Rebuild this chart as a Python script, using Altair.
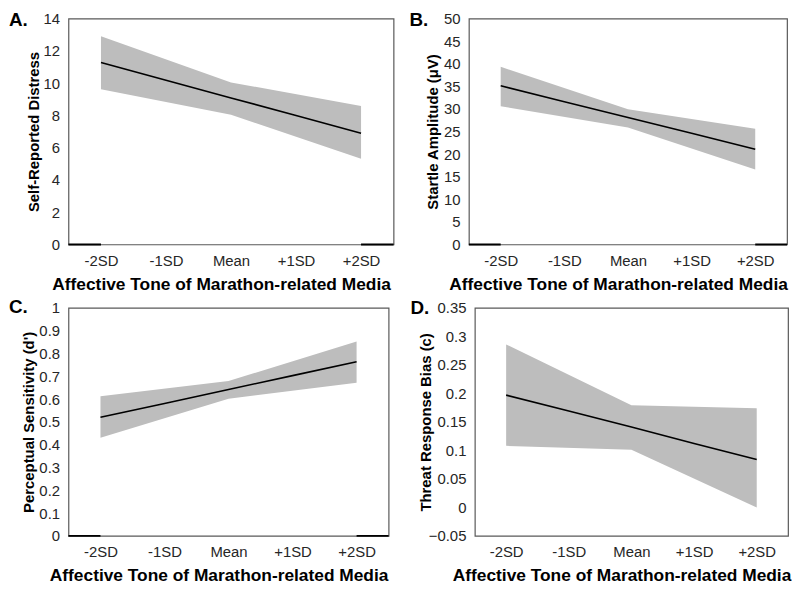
import json
import altair as alt
import pandas as pd

FONT = "Liberation Sans"

tone_labels = ["-2SD", "-1SD", "Mean", "+1SD", "+2SD"]
band_tones = ["-2SD", "Mean", "+2SD"]
x_title = "Affective Tone of Marathon-related Media"

# Panel A: Self-Reported Distress
distress_line = [11.28, 10.18, 9.08, 7.99, 6.89]
distress_upper = [12.9, 10.04, 8.58]
distress_lower = [9.61, 8.03, 5.31]
distress_ticks = [0, 2, 4, 6, 8, 10, 12, 14]

# Panel B: Startle Amplitude
startle_line = [35.1, 31.6, 28.1, 24.6, 21.05]
startle_upper = [39.3, 29.9, 25.6]
startle_lower = [30.6, 25.9, 16.6]
startle_ticks = [0, 5, 10, 15, 20, 25, 30, 35, 40, 45, 50]

# Panel C: Perceptual Sensitivity
sens_line = [0.520, 0.581, 0.642, 0.703, 0.764]
sens_upper = [0.613, 0.679, 0.853]
sens_lower = [0.430, 0.602, 0.672]
sens_ticks = [0, 0.1, 0.2, 0.3, 0.4, 0.5, 0.6, 0.7, 0.8, 0.9, 1]

# Panel D: Threat Response Bias
bias_line = [0.197, 0.169, 0.141, 0.112, 0.084]
bias_upper = [0.286, 0.179, 0.174]
bias_lower = [0.108, 0.101, 0.0]
bias_ticks = [-0.05, 0, 0.05, 0.1, 0.15, 0.2, 0.25, 0.3, 0.35]

y_titles = ["Self-Reported Distress", "Startle Amplitude (μV)",
            "Perceptual Sensitivity (d')", "Threat Response Bias (c)"]
letters = ["A.", "B.", "C.", "D."]

pos_of = {t: i for i, t in enumerate(tone_labels)}
label_expr = json.dumps(tone_labels) + "[round(datum.value)]"


def panel(letter, line_vals, upper, lower, yticks, yfmt, ytitle, w, h,
          ytitle_off, letter_dx, letter_dy, stubs):
    line_df = pd.DataFrame({"pos": [pos_of[t] for t in tone_labels],
                            "value": line_vals})
    band_df = pd.DataFrame({"pos": [pos_of[t] for t in band_tones],
                            "value": upper, "lower": lower})
    xs = alt.Scale(domain=[-0.5, len(tone_labels) - 0.5], nice=False, zero=False)
    ys = alt.Scale(domain=[yticks[0], yticks[-1]], nice=False, zero=False)
    xax = alt.Axis(values=list(range(len(tone_labels))), labelExpr=label_expr,
                   title=x_title, grid=False, domain=False, ticks=False, tickSize=0,
                   labelPadding=9, titlePadding=7, titleX=w / 2 - 10)
    yax = alt.Axis(values=yticks, format=yfmt, title=ytitle, grid=False,
                   domain=False, ticks=False, tickSize=0, labelPadding=9,
                   titleX=-ytitle_off, titleBaseline="middle")
    band = alt.Chart(band_df).mark_area(color="#bdbdbd", opacity=1).encode(
        x=alt.X("pos:Q", scale=xs, axis=xax),
        y=alt.Y("value:Q", scale=ys, axis=yax),
        y2="lower:Q",
    )
    line = alt.Chart(line_df).mark_line(color="black", strokeWidth=1.6).encode(
        x=alt.X("pos:Q", scale=xs, axis=xax),
        y=alt.Y("value:Q", scale=ys, axis=yax),
    )
    layers = [band, line]
    if stubs:
        stub_df = pd.DataFrame({"pos": [-0.5, len(tone_labels) - 1],
                                "pos2": [0, len(tone_labels) - 0.5],
                                "value": [0, 0]})
        stub = alt.Chart(stub_df).mark_rule(color="black", strokeWidth=2).encode(
            x=alt.X("pos:Q", scale=xs, axis=xax), x2="pos2:Q",
            y=alt.Y("value:Q", scale=ys, axis=yax),
        )
        layers.append(stub)
    lab = alt.Chart(pd.DataFrame({"t": [letter]})).mark_text(
        align="left", baseline="middle", font=FONT, fontSize=19,
        fontWeight="bold", color="black"
    ).encode(text="t:N", x=alt.value(letter_dx), y=alt.value(letter_dy))
    layers.append(lab)
    return alt.layer(*layers).properties(width=w, height=h)


pA = panel(letters[0], distress_line, distress_upper, distress_lower,
           distress_ticks, "d", y_titles[0], 328, 228, 35, -60, 2, True)
pB = panel(letters[1], startle_line, startle_upper, startle_lower,
           startle_ticks, "d", y_titles[1], 321, 228, 37, -60, 2, True)
pC = panel(letters[2], sens_line, sens_upper, sens_lower,
           sens_ticks, ".1~f", y_titles[2], 323, 230, 40, -60, -1, True)
pD = panel(letters[3], bias_line, bias_upper, bias_lower,
           bias_ticks, ".2~f", y_titles[3], 316, 230, 50, -65, 0, False)

row1 = alt.hconcat(pA, pB, spacing=13)
row2 = alt.hconcat(pC, pD, spacing=19)

chart = alt.vconcat(row1, row2, spacing=3).properties(
    padding=0, background="white"
).configure_view(
    stroke="#595959", strokeWidth=1.2
).configure_axis(
    labelFont=FONT, labelFontSize=15, labelColor="#262626",
    titleFont=FONT, titleColor="black", titleFontWeight="bold"
).configure_axisX(
    titleFontSize=17.5
).configure_axisY(
    titleFontSize=15
)

chart.save("out.html", embed_options={"renderer": "svg", "actions": False})
